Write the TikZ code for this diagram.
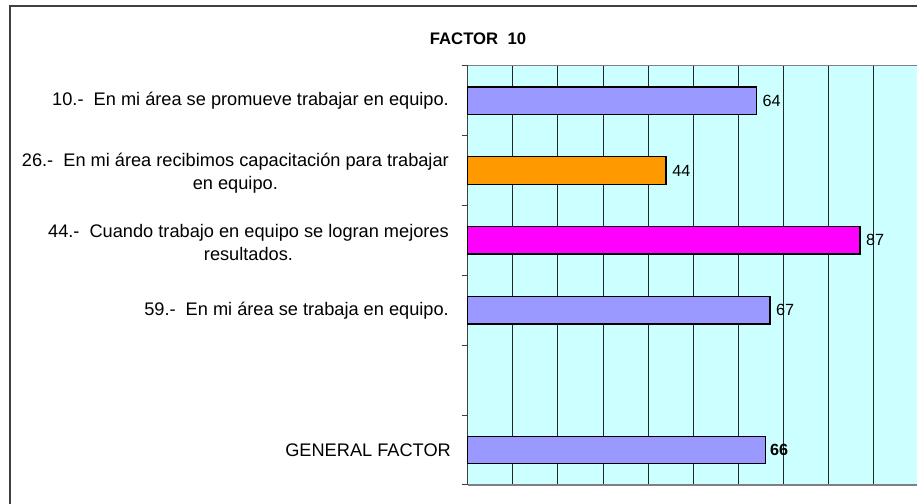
\documentclass[tikz,border=0pt]{standalone}
\usepackage{fontspec}
\setmainfont{Liberation Sans}
\definecolor{plotbg}{RGB}{204,255,255}
\definecolor{barblue}{RGB}{153,153,255}
\definecolor{barorange}{RGB}{255,153,0}
\definecolor{barmag}{RGB}{255,0,255}
\begin{document}
\begin{tikzpicture}[x=1pt,y=-1pt,
  lbl/.style={anchor=east,align=center,inner sep=0pt,font=\fontsize{18.2}{23}\selectfont},
  val/.style={anchor=west,inner sep=0pt,font=\fontsize{16.2}{18}\selectfont},
  barbox/.style={draw=black,line width=1.4pt},
  gridline/.style={draw=black!85,line width=0.9pt},
  frameline/.style={draw=black!75,line width=1.5pt}]
\useasboundingbox (0,0) rectangle (917,503);
\fill[white] (0,0) rectangle (917,503);
% outer frame
\draw[frameline] (10,520) -- (10,6) -- (930,6);
% plot area
\fill[plotbg] (467.7,65.7) rectangle (920,485);
\foreach \i in {1,...,9}
  \draw[gridline] ({467.7+45.1*\i},65.7) -- ({467.7+45.1*\i},485);
\draw[gray,line width=1.2pt] (467.7,65.7) -- (920,65.7);
\draw[gray,line width=1.2pt] (467.7,485) -- (920,485);
\draw[black!75,line width=1.2pt] (467.7,65.7) -- (467.7,485);
\foreach \k in {0,...,6}
  \draw[black!75,line width=1pt] (461.7,{65.7+69.88*\k}) -- (467.7,{65.7+69.88*\k});
% title
\node[font=\bfseries\fontsize{16.7}{18}\selectfont] (title) at (478,39) {FACTOR\ \ 10};
% bars
\foreach \v/\k/\c in {64/0/barblue, 44/1/barorange, 87/2/barmag, 67/3/barblue, 66/5/barblue}{
  \pgfmathsetmacro\yc{65.7+69.88*(\k+0.5)}
  \pgfmathsetmacro\xe{467.7+4.51*\v}
  \filldraw[barbox,fill=\c] (467.7,\yc-13.75) rectangle (\xe,\yc+13.75);
}
% value labels
\node[val] (v1) at (762.5,100.6) {64};
\node[val] (v2) at (672.2,170.5) {44};
\node[val] (v3) at (865.9,240.4) {87};
\node[val] (v4) at (776.0,310.3) {67};
\node[val,font=\bfseries\fontsize{16.2}{18}\selectfont] (v6) at (770.0,450.0) {66};
% category labels
\node[lbl] (l1) at (449,100.6) {10.-\ \ En mi área se promueve trabajar en equipo.};
\node[lbl] (l2) at (449,173) {26.-\ \ En mi área recibimos capacitación para trabajar\\en equipo.};
\node[lbl] (l3) at (449,242.4) {44.-\ \ Cuando trabajo en equipo se logran mejores\\resultados.};
\node[lbl] (l4) at (449,310.3) {59.-\ \ En mi área se trabaja en equipo.};
\node[lbl] (l6) at (451,450.0) {GENERAL FACTOR};
\end{tikzpicture}
\end{document}
